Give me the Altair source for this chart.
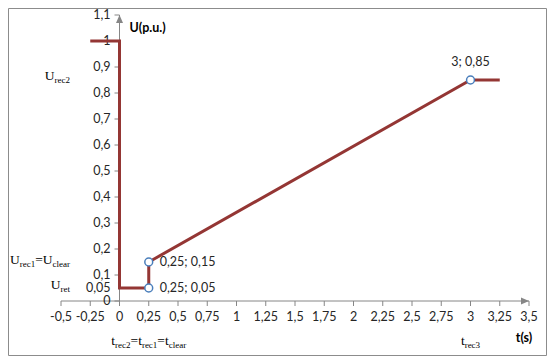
import altair as alt
import pandas as pd

# ---- data ----
t_vals = [-0.25, 0, 0, 0.25, 0.25, 3, 3.25]
u_vals = [1, 1, 0.05, 0.05, 0.15, 0.85, 0.85]

pt_t = [0.25, 0.25, 3]
pt_u = [0.05, 0.15, 0.85]
pt_labels = ["0,25; 0,05", "0,25; 0,15", "3; 0,85"]

x_ticks = [-0.5, -0.25, 0, 0.25, 0.5, 0.75, 1, 1.25, 1.5, 1.75, 2, 2.25, 2.5, 2.75, 3, 3.25, 3.5]
x_tick_labels = ["-0,5", "-0,25", "0", "0,25", "0,5", "0,75", "1", "1,25", "1,5", "1,75",
                 "2", "2,25", "2,5", "2,75", "3", "3,25", "3,5"]
y_ticks = [0, 0.1, 0.2, 0.3, 0.4, 0.5, 0.6, 0.7, 0.8, 0.9, 1, 1.1]
y_label_vals = [0, 0.05, 0.1, 0.2, 0.3, 0.4, 0.5, 0.6, 0.7, 0.8, 0.9, 1, 1.1]
y_labels = ["0", "0,05", "0,1", "0,2", "0,3", "0,4", "0,5", "0,6", "0,7", "0,8", "0,9", "1", "1,1"]

# annotation labels: (anchor value, segments [(text, is_subscript)])
u_annots = [
    (0.85, [("U", False), ("rec2", True)]),
    (0.15, [("U", False), ("rec1", True), ("=U", False), ("clear", True)]),
    (0.05, [("U", False), ("ret", True)]),
]
t_annots = [
    (0.25, [("t", False), ("rec2", True), ("=t", False), ("rec1", True), ("=t", False), ("clear", True)]),
    (3, [("t", False), ("rec3", True)]),
]

# ---- styling ----
W, H = 468, 286
PAD_L, PAD_T = 53, 7
PAD_R = 539 - PAD_L - W
PAD_B = 348 - PAD_T - H
XD = [-0.5, 3.5]
YD = [0, 1.1]
xs = alt.Scale(domain=XD, nice=False, zero=False)
ys = alt.Scale(domain=YD, nice=False, zero=False)
AXIS_C = "#868686"
LINE_C = "#943634"
MARK_C = "#4A7EBB"
TXT_C = "#262626"
SANS = "Lato"
SERIF = "Liberation Serif"
MAIN_FS, SUB_FS = 13.5, 9

times_w = {"U": .722, "r": .333, "e": .444, "c": .444, "1": .5, "2": .5, "3": .5,
           "t": .278, "l": .278, "a": .444, "=": .564}


def seg_width(txt, sub):
    fs = SUB_FS if sub else MAIN_FS
    return sum(times_w.get(ch, .5) for ch in txt) * fs


def X(f):
    return alt.X(f, type="quantitative", scale=xs, axis=None)


def Y(f):
    return alt.Y(f, type="quantitative", scale=ys, axis=None)


def pt(x, y):
    return pd.DataFrame({"x": [x], "y": [y]})


line_df = pd.DataFrame({"t": t_vals, "u": u_vals, "i": list(range(len(t_vals)))})
pt_df = pd.DataFrame({"t": pt_t, "u": pt_u, "lab": pt_labels})
xt_df = pd.DataFrame({"v": x_ticks, "z": [0] * len(x_ticks), "lab": x_tick_labels})
yt_df = pd.DataFrame({"v": y_ticks, "z": [0] * len(y_ticks)})
yl_df = pd.DataFrame({"v": y_label_vals, "z": [0] * len(y_label_vals), "lab": y_labels})

layers = []

# axis lines
layers.append(
    alt.Chart(pd.DataFrame({"x": [0], "y": [0], "y2": [1.1]})).mark_rule(
        color=AXIS_C, strokeWidth=1).encode(x=X("x"), y=Y("y"), y2="y2:Q")
)
layers.append(
    alt.Chart(pd.DataFrame({"x": [-0.5], "x2": [3.5], "y": [0]})).mark_rule(
        color=AXIS_C, strokeWidth=1).encode(x=X("x"), x2="x2:Q", y=Y("y"))
)
# arrows
layers.append(
    alt.Chart(pt(0, 1.1)).mark_point(
        shape="M0,0 L0.875,2 L-0.875,2 Z", size=64, filled=True, color=AXIS_C, opacity=1).encode(
        x=X("x"), y=Y("y"))
)
layers.append(
    alt.Chart(pt(3.5, 0)).mark_point(
        shape="M0,0 L-2,-0.875 L-2,0.875 Z", size=64, filled=True, color=AXIS_C, opacity=1).encode(
        x=X("x"), y=Y("y"))
)
# ticks
layers.append(
    alt.Chart(yt_df).mark_rule(color=AXIS_C, xOffset=-5, strokeWidth=1).encode(
        x=X("z"), x2="z:Q", y=Y("v"))
)
layers.append(
    alt.Chart(xt_df).mark_rule(color=AXIS_C, y2Offset=5, strokeWidth=1).encode(
        x=X("v"), y=Y("z"), y2="z:Q")
)
# tick labels
layers.append(
    alt.Chart(yl_df).mark_text(align="right", baseline="middle", dx=-9, font=SANS, fontSize=12.5,
                               color=TXT_C).encode(x=X("z"), y=Y("v"), text="lab:N")
)
layers.append(
    alt.Chart(xt_df).mark_text(align="center", baseline="middle", dy=16, font=SANS, fontSize=12.5,
                               color=TXT_C).encode(x=X("v"), y=Y("z"), text="lab:N")
)
# axis titles
layers.append(
    alt.Chart(pt(0, 1.1)).mark_text(align="left", baseline="middle", dx=10, dy=13, font=SANS,
                                    fontSize=12.5, fontWeight="bold", color="#000",
                                    text="U(p.u.)").encode(x=X("x"), y=Y("y"))
)
layers.append(
    alt.Chart(pt(3.5, 0)).mark_text(align="center", baseline="middle", dx=-5, dy=37,
                                    font=SANS, fontSize=12.5, fontWeight="bold",
                                    color="#000", text="t(s)").encode(x=X("x"), y=Y("y"))
)

# data line
layers.append(
    alt.Chart(line_df).mark_line(color=LINE_C, strokeWidth=3, strokeJoin="miter").encode(
        x=X("t"), y=Y("u"), order="i:Q")
)
# markers
layers.append(
    alt.Chart(pt_df).mark_point(shape="circle", filled=True, fill="white", stroke=MARK_C,
                                strokeWidth=1.5, size=62, opacity=1).encode(x=X("t"), y=Y("u"))
)
# data labels
layers.append(
    alt.Chart(pt_df.iloc[:2]).mark_text(align="left", baseline="middle", dx=11, font=SANS,
                                        fontSize=12.5, color=TXT_C).encode(
        x=X("t"), y=Y("u"), text="lab:N")
)
layers.append(
    alt.Chart(pt_df.iloc[2:]).mark_text(align="center", baseline="middle", dy=-18, font=SANS,
                                        fontSize=12.5, color=TXT_C).encode(
        x=X("t"), y=Y("u"), text="lab:N")
)

# U annotations (right aligned just left of plot region)
U_RIGHT = 9  # px right of x=-0.5
u_dy = {0.85: 0, 0.15: 2, 0.05: 1}
for yv, segs in u_annots:
    total = sum(seg_width(s, b) for s, b in segs)
    cur = U_RIGHT - total
    for s, b in segs:
        layers.append(
            alt.Chart(pt(-0.5, yv)).mark_text(
                align="left", baseline="alphabetic", dx=cur, dy=u_dy[yv] + (3 if b else 0),
                font=SERIF, fontSize=SUB_FS if b else MAIN_FS, color="#000", text=s).encode(
                x=X("x"), y=Y("y"))
        )
        cur += seg_width(s, b)

# t annotations (centered below x axis)
for xv, segs in t_annots:
    total = sum(seg_width(s, b) for s, b in segs)
    cur = -total / 2
    for s, b in segs:
        layers.append(
            alt.Chart(pt(xv, 0)).mark_text(
                align="left", baseline="alphabetic", dx=cur, dy=44 + (3 if b else 0),
                font=SERIF, fontSize=SUB_FS if b else MAIN_FS, color="#000", text=s).encode(
                x=X("x"), y=Y("y"))
        )
        cur += seg_width(s, b)

# frame around the whole figure
layers.append(
    alt.Chart(pt(0, 0)).mark_rect(fill=None, stroke="#8c8c8c", strokeWidth=1).encode(
        x=alt.value(-PAD_L + 0.5), x2=alt.value(W + PAD_R - 0.5),
        y=alt.value(-PAD_T + 0.5), y2=alt.value(H + PAD_B - 0.5))
)

chart = alt.layer(*layers).properties(
    width=W, height=H,
    padding={"left": PAD_L, "top": PAD_T, "right": PAD_R, "bottom": PAD_B},
    autosize=alt.AutoSizeParams(type="none"),
    background="white",
).configure_view(stroke=None)

chart.save("out.html", embed_options={"renderer": "svg", "actions": False})
